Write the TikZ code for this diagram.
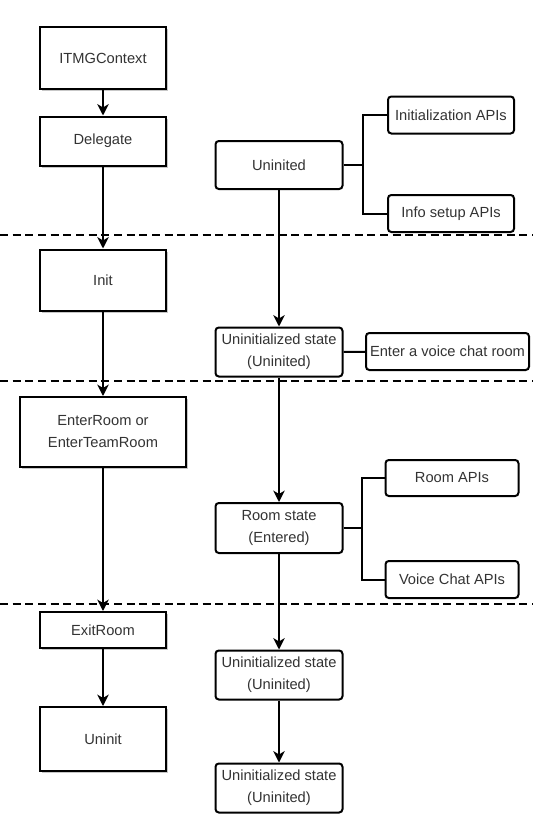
\documentclass[tikz,border=0pt]{standalone}
\usepackage{fontspec}
\setmainfont{Liberation Sans}
\usepackage{tikz}
\usetikzlibrary{arrows.meta,shadows}
\definecolor{labelgray}{HTML}{333333}
\tikzset{
    call-box/.style = {draw=black, fill=white, line width=1.5pt, rectangle, inner sep=1pt, text=labelgray, align=center,
        font=\fontsize{11}{16.5}\selectfont,
        drop shadow={shadow xshift=1.6pt, shadow yshift=-1.6pt, fill=black!22, opacity=1}},
    state-box/.style = {draw=black, fill=white, line width=1.5pt, rectangle, rounded corners=2.5pt, inner sep=0.5pt,
        text=labelgray, align=center, font=\fontsize{11}{16.5}\selectfont, minimum width=95.25pt},
    api-box/.style = {state-box, minimum height=27.75pt},
    flow-arrow/.style = {line width=1.5pt, -{Stealth[length=8.5pt,width=8.5pt,inset=2.5pt]}},
    branch-line/.style = {line width=1.5pt},
    phase-line/.style = {line width=1.2pt, dash pattern=on 6pt off 3.5pt},
}
\begin{document}
\begin{tikzpicture}[x=0.75pt,y=-0.75pt]
\useasboundingbox (0,0) rectangle (533,836);

% calls
\node[call-box, minimum width=94.5pt, minimum height=46.5pt] (ctx) at (103,58) {ITMGContext};
\node[call-box, minimum width=94.5pt, minimum height=36.75pt] (delegate) at (103,141) {Delegate};
\node[call-box, minimum width=94.5pt, minimum height=45.75pt] (init) at (103,280) {Init};
\node[call-box, minimum width=124.5pt, minimum height=52.5pt] (enterroom) at (103,432) {EnterRoom or\\EnterTeamRoom};
\node[call-box, minimum width=94.5pt, minimum height=27pt] (exitroom) at (103,630) {ExitRoom};
\node[call-box, minimum width=94.5pt, minimum height=48pt] (uninit) at (103,739) {Uninit};

% states
\node[state-box, minimum height=36pt] (uninited) at (279,165) {Uninited};
\node[state-box, minimum height=36.75pt] (state-a) at (279,352) {Uninitialized state\\(Uninited)};
\node[state-box, minimum height=37.5pt] (state-room) at (279,528) {Room state\\(Entered)};
\node[state-box, minimum height=36.75pt] (state-b) at (279,675) {Uninitialized state\\(Uninited)};
\node[state-box, minimum height=36.75pt] (state-c) at (279,788) {Uninitialized state\\(Uninited)};

% APIs
\node[api-box, minimum width=94.5pt] (init-api) at (451,115) {Initialization APIs};
\node[api-box, minimum width=94.5pt] (info-api) at (451,213.5) {Info setup APIs};
\node[api-box, minimum width=122.25pt] (enter-api) at (447.5,351.5) {Enter a voice chat room};
\node[api-box, minimum width=99.75pt, minimum height=27pt] (room-api) at (452,478) {Room APIs};
\node[api-box, minimum width=99.75pt] (voice-api) at (452,579.5) {Voice Chat APIs};

% phases
\coordinate (p1l) at (0,235); \coordinate (p1r) at (533,235);
\coordinate (p2l) at (0,381); \coordinate (p2r) at (533,381);
\coordinate (p3l) at (0,604); \coordinate (p3r) at (533,604);
\draw[phase-line] (p1l) -- (p1r);
\draw[phase-line] (p2l) -- (p2r);
\draw[phase-line] (p3l) -- (p3r);

% flow
\draw[flow-arrow] (ctx) -- (delegate);
\draw[flow-arrow] (delegate) -- (init);
\draw[flow-arrow] (init) -- (enterroom);
\draw[flow-arrow] (enterroom) -- (exitroom);
\draw[flow-arrow] (exitroom) -- (uninit);
\draw[flow-arrow] (uninited) -- (state-a);
\draw[flow-arrow] (state-a) -- (state-room);
\draw[flow-arrow] (state-room) -- (state-b);
\draw[flow-arrow] (state-b) -- (state-c);

% branches
\coordinate (fork-a) at (363,165);
\coordinate (fork-b) at (362,528);
\draw[branch-line] (uninited) -- (fork-a);
\draw[branch-line] (init-api.west) -| (fork-a) |- (info-api.west);
\draw[branch-line] (state-a) -- (enter-api);
\draw[branch-line] (state-room) -- (fork-b);
\draw[branch-line] (room-api.west) -| (fork-b) |- (voice-api.west);
\end{tikzpicture}
\end{document}
